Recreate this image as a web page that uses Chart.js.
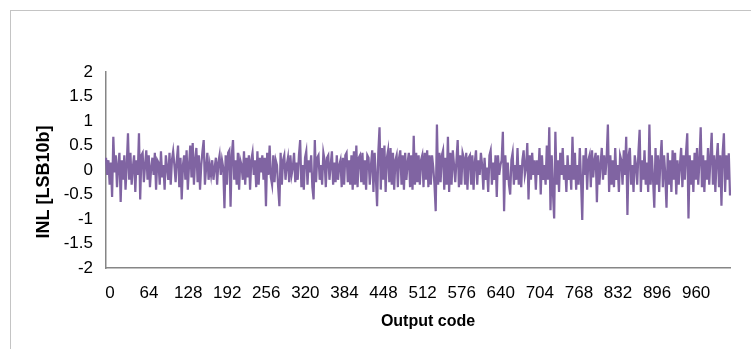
<!DOCTYPE html>
<html><head><meta charset="utf-8">
<script src="https://cdn.jsdelivr.net/npm/chart.js@4"></script>
<style>
html,body{margin:0;padding:0;background:#fff;overflow:hidden}
#frame{position:absolute;left:10px;top:10px;width:800px;height:400px;border:1px solid #c4c4c4;box-sizing:border-box}
#wrap{position:absolute;left:0;top:0;width:751px;height:349px}
</style></head><body>
<div id="frame"></div>
<div id="wrap"><canvas id="c" width="751" height="349"></canvas></div>
<script>
const xTitle = "Output code";
const yTitle = "INL [LSB10b]";
const xTickLabels = ["0","64","128","192","256","320","384","448","512","576","640","704","768","832","896","960"];
const yTickValues = [2,1.5,1,0.5,0,-0.5,-1,-1.5,-2];
const codes = Array.from({length:512},(_,i)=>String(i*2));
const inl = [
0.25,-0.1,0.2,-0.3,0.15,-0.55,0.68,-0.05,0.3,-0.35,0.1,0.35,-0.65,0.2,-0.2,0.3,
-0.4,0.1,0.75,-0.2,0.35,-0.3,0.05,0.3,-0.45,0.2,-0.1,0.75,-0.6,0.3,0.35,-0.25,
0.1,0.4,-0.2,0.3,-0.35,0.05,0.25,-0.1,0.35,-0.4,0.2,0.15,-0.3,0.38,-0.15,0.1,
-0.4,0.3,0.05,-0.2,0.35,-0.3,0.2,0.38,0.1,-0.25,0.2,0.5,-0.35,0.25,-0.6,0.1,
0.3,-0.2,0.4,-0.4,0.1,0.5,-0.15,0.55,-0.3,0.2,0.45,-0.25,0.3,-0.4,0.1,0.38,
0.61,-0.3,0.05,0.35,-0.2,0.1,-0.1,0.2,-0.2,0.05,0.25,-0.3,0.15,0.3,-0.1,0.2,
0.05,-0.78,0.3,-0.3,0.35,0.4,-0.75,0.3,0.61,-0.2,0.2,-0.3,0.35,-0.4,0.2,0.1,
-0.2,0.38,-0.3,0.25,-0.15,0.3,-0.4,0.2,0.35,-0.1,0.2,-0.35,0.38,-0.3,0.25,-0.05,
0.3,-0.2,0.25,-0.74,0.35,-0.1,0.5,-0.15,-0.3,0.3,-0.25,0.2,0.1,-0.35,-0.74,0.35,
-0.3,0.2,0.3,-0.2,0.1,0.25,-0.25,0.3,-0.1,0.05,0.35,-0.25,0.15,-0.2,0.3,0.61,
-0.35,0.1,-0.4,0.25,0.38,-0.3,0.2,-0.05,0.3,-0.35,-0.6,0.61,-0.25,0.25,0.3,-0.2,
0.1,-0.3,0.35,0.2,-0.35,0.25,0.3,-0.2,0.1,0.38,-0.3,0.15,-0.25,0.3,-0.2,0.1,
0.2,-0.35,0.25,-0.3,0.3,0.35,-0.25,0.2,-0.3,0.3,-0.4,0.38,-0.3,0.5,-0.35,0.25,
0.3,-0.25,0.35,-0.3,0.2,-0.4,0.3,0.25,-0.3,0.1,0.4,-0.45,0.35,-0.15,-0.74,0.35,
0.87,-0.4,0.45,-0.2,0.5,-0.45,0.25,0.4,-0.25,0.45,-0.3,0.35,-0.4,0.2,0.3,-0.35,
0.25,0.4,-0.3,0.3,-0.4,0.35,-0.2,0.15,0.35,-0.35,0.3,-0.4,0.7,-0.3,0.35,-0.25,
0.3,-0.3,0.2,0.3,-0.35,0.35,-0.2,0.4,-0.35,0.3,-0.3,0.3,0.05,-0.3,-0.84,0.93,
-0.3,0.35,-0.25,0.3,0.4,-0.4,0.25,-0.3,0.68,-0.45,0.35,-0.3,0.4,0.1,-0.25,0.2,
0.61,-0.35,0.3,-0.3,0.35,0.25,-0.3,0.35,-0.4,0.25,0.3,-0.3,0.3,-0.4,0.15,0.4,
-0.3,0.2,-0.1,0.35,0.1,-0.4,0.25,-0.2,0.05,-0.45,0.3,0.4,-0.3,0.15,-0.2,0.3,
-0.55,0.3,-0.1,0.1,0.2,0.78,-0.84,0.3,-0.2,0.15,-0.3,-0.5,0.2,0.35,-0.3,0.1,
-0.2,0.45,-0.3,0.1,-0.35,0.2,0.4,-0.1,0.05,0.55,-0.6,0.3,-0.2,0.35,-0.1,0.2,
-0.4,0.2,-0.1,0.45,-0.5,0.3,-0.2,0.1,-0.3,0.5,-0.2,0.87,-0.82,0.3,-0.45,-0.99,
0.78,-0.3,0.2,-0.45,0.35,-0.1,0.45,-0.2,0.1,-0.45,0.3,-0.2,0.1,-0.4,0.68,-0.2,
0.35,-0.4,0.1,-0.3,0.45,-0.2,-1.02,0.3,-0.1,0.45,-0.4,0.2,0.3,-0.35,0.4,-0.15,
0.2,0.35,-0.66,0.3,-0.3,0.1,0.45,-0.2,0.3,-0.1,0.25,0.93,-0.45,0.3,-0.3,0.2,
-0.35,0.45,-0.2,0.1,-0.45,0.3,0.2,-0.3,0.4,-0.1,0.68,-0.92,0.3,0.45,-0.3,0.1,
-0.45,0.3,0.1,-0.3,0.35,0.82,-0.45,0.2,-0.2,0.4,-0.3,0.15,-0.45,0.93,-0.3,0.3,
-0.2,-0.77,0.45,-0.3,0.3,-0.45,0.2,0.61,-0.35,0.3,-0.1,-0.77,0.35,-0.3,0.2,-0.45,
0.4,-0.2,0.35,-0.5,0.2,-0.3,0.1,0.45,-0.35,0.3,-0.2,0.35,0.75,-0.99,0.3,-0.3,
0.2,-0.45,0.35,-0.2,0.45,-0.3,0.2,0.87,-0.35,0.3,-0.45,0.2,-0.2,0.45,-0.3,0.25,
0.76,-0.3,0.3,-0.45,0.2,0.55,-0.35,0.3,-0.73,0.35,0.75,-0.45,0.3,-0.2,0.34,-0.52
];

const FONT = '"Liberation Sans", Arial, sans-serif';
const axisTitles = {
  id: 'axisTitles',
  afterDraw(chart) {
    const ctx = chart.ctx;
    ctx.save();
    ctx.fillStyle = '#000';
    ctx.textAlign = 'center';
    ctx.textBaseline = 'middle';
    ctx.font = 'bold 16px ' + FONT;
    ctx.fillText(xTitle, 428, 322);
    ctx.translate(44, 182);
    ctx.rotate(-Math.PI / 2);
    ctx.font = 'bold 18px ' + FONT;
    ctx.fillText(yTitle, 0, 0);
    ctx.restore();
  }
};

new Chart(document.getElementById('c'), {
  type: 'line',
  data: {
    labels: codes,
    datasets: [{
      data: inl,
      borderColor: '#8064A2',
      borderWidth: 2.25,
      pointRadius: 0,
      tension: 0,
      fill: false
    }]
  },
  options: {
    responsive: false,
    animation: false,
    events: [],
    layout: { padding: { left: 0, right: 21, top: 72, bottom: 0 } },
    plugins: { legend: { display: false }, tooltip: { enabled: false } },
    scales: {
      x: {
        type: 'category',
        offset: false,
        grid: { display: false, drawTicks: false },
        border: { display: true, color: '#868686', width: 1.5 },
        ticks: {
          autoSkip: false, maxRotation: 0, minRotation: 0,
          padding: 15, labelOffset: 4, color: '#000',
          font: { family: FONT, size: 17 },
          callback: (v, i) => (i % 32 === 0 ? xTickLabels[i / 32] : '')
        },
        afterFit: s => { s.height = 81; }
      },
      y: {
        min: -2, max: 2,
        grid: { display: false, drawTicks: false },
        border: { display: true, color: '#868686', width: 1.5 },
        ticks: {
          stepSize: 0.5, padding: 13, color: '#000',
          font: { family: FONT, size: 17 },
          callback: v => String(v)
        },
        afterBuildTicks: s => { s.ticks = yTickValues.map(v => ({ value: v })); },
        afterFit: s => { s.width = 106; }
      }
    }
  },
  plugins: [axisTitles]
});
</script>
</body></html>
